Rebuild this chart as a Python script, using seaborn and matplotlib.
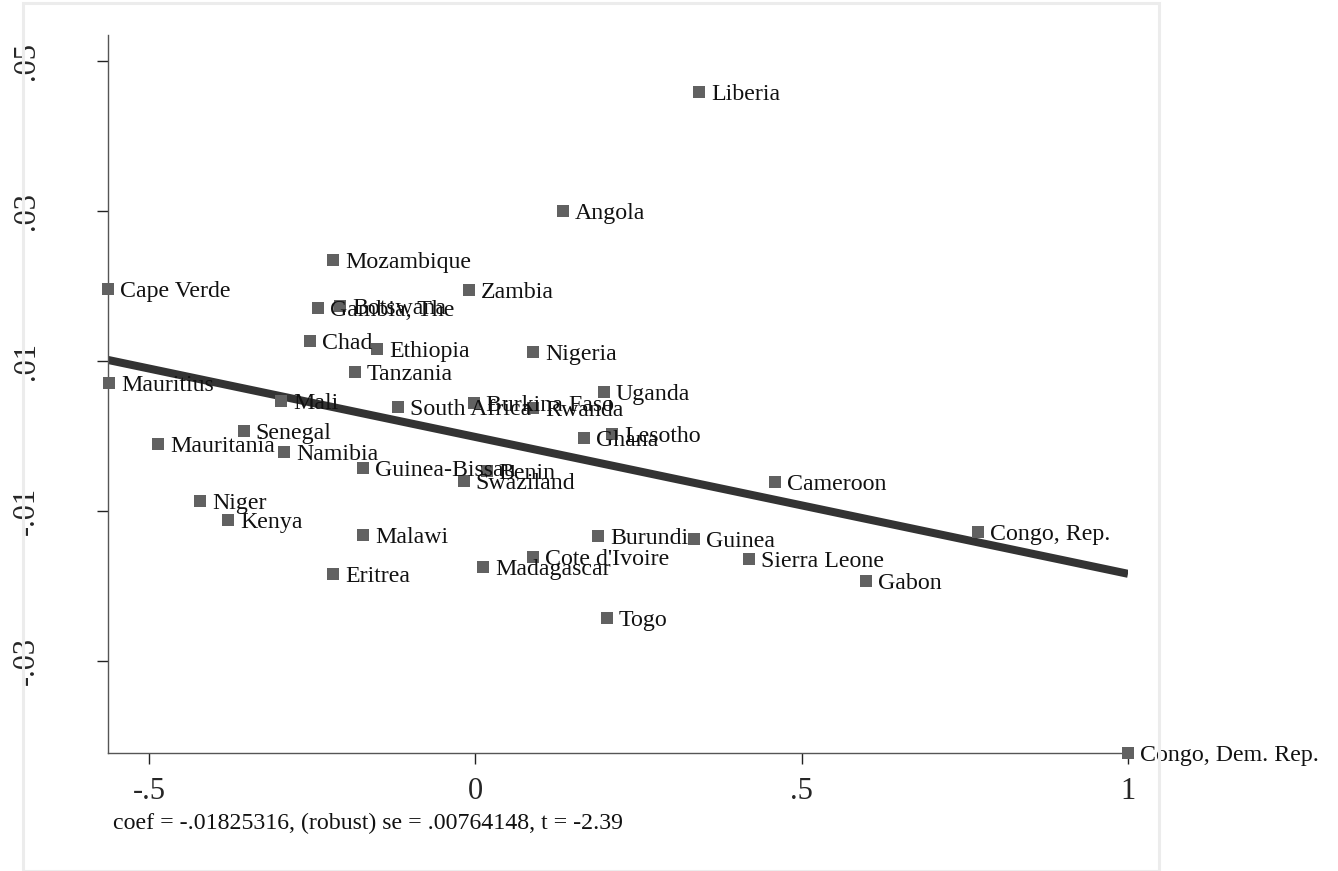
import numpy as np
import pandas as pd
import seaborn as sns
import matplotlib.pyplot as plt
from matplotlib.patches import Rectangle

COUNTRIES = ["Liberia", "Angola", "Mozambique", "Cape Verde", "Zambia", "Gambia, The",
             "Botswana", "Chad", "Ethiopia", "Nigeria", "Tanzania", "Mauritius", "Uganda",
             "Mali", "South Africa", "Burkina Faso", "Rwanda", "Senegal", "Ghana", "Lesotho",
             "Mauritania", "Namibia", "Guinea-Bissau", "Benin", "Swaziland", "Cameroon",
             "Niger", "Kenya", "Malawi", "Burundi", "Guinea", "Congo, Rep.", "Cote d'Ivoire",
             "Sierra Leone", "Madagascar", "Eritrea", "Gabon", "Togo", "Congo, Dem. Rep."]
X_RESID = [0.3427, 0.1343, -0.2181, -0.5628, -0.0097, -0.2411,
           -0.2074, -0.2533, -0.1507, 0.0883, -0.1844, -0.5613, 0.1971,
           -0.2978, -0.1185, -0.0021, 0.0883, -0.3545, 0.1665, 0.2094,
           -0.4862, -0.2932, -0.1721, 0.0178, -0.0174, 0.4591,
           -0.4219, -0.3790, -0.1721, 0.1879, 0.3350, 0.7701, 0.0883,
           0.4193, 0.0117, -0.2181, 0.5985, 0.2017, 1.0000]
Y_RESID = [0.04587, 0.03000, 0.02347, 0.01960, 0.01947, 0.01707,
           0.01733, 0.01267, 0.01160, 0.01120, 0.00853, 0.00707, 0.00587,
           0.00467, 0.00387, 0.00440, 0.00373, 0.00067, -0.00027, 0.00027,
           -0.00107, -0.00213, -0.00427, -0.00467, -0.00600, -0.00613,
           -0.00867, -0.01120, -0.01320, -0.01333, -0.01373, -0.01280, -0.01613,
           -0.01640, -0.01747, -0.01840, -0.01933, -0.02427, -0.04227]

COEF = -0.01825316
NOTE = "coef = -.01825316, (robust) se = .00764148, t = -2.39"
XTICKS = [-0.5, 0, 0.5, 1]
XTICK_LABELS = ["-.5", "0", ".5", "1"]
YTICKS = [-0.03, -0.01, 0.01, 0.03, 0.05]
YTICK_LABELS = ["-.03", "-.01", ".01", ".03", ".05"]

df = pd.DataFrame({"country": COUNTRIES, "x": X_RESID, "y": Y_RESID})

sns.set_style("white")
plt.rcParams["font.family"] = ["Liberation Serif", "DejaVu Serif"]

fig = plt.figure(figsize=(13.38, 8.71), dpi=100)
ax = fig.add_axes([108 / 1338, 1 - 753 / 871, (1128 - 108) / 1338, (753 - 35) / 871])

# outer graph-region frame (Stata style)
fig.patches.append(Rectangle((23 / 1338, 0.0005), (1159 - 23) / 1338, 0.9955,
                             transform=fig.transFigure, fill=False,
                             edgecolor="#ececec", linewidth=2.2, zorder=0))

# fitted line across the data range
intercept = df.y.mean() - COEF * df.x.mean()
fit = pd.DataFrame({"x": [df.x.min(), df.x.max()]})
fit["y"] = intercept + COEF * fit.x
sns.lineplot(data=fit, x="x", y="y", color="#333333", linewidth=5.8, ax=ax, zorder=2,
             solid_capstyle="butt")

sns.scatterplot(data=df, x="x", y="y", marker="s", s=70, color="#616161",
                edgecolor="none", ax=ax, zorder=3, clip_on=False)

for _, r in df.iterrows():
    ax.annotate(r.country, (r.x, r.y), xytext=(8.5, -1.5), textcoords="offset points",
                va="center", ha="left", fontsize=17.2, color="#111111",
                annotation_clip=False, zorder=4)

ax.set_xlim(df.x.min(), df.x.max())
ax.set_ylim(df.y.min(), 0.0535)
ax.set_xticks(XTICKS)
ax.set_xticklabels(XTICK_LABELS, fontsize=22)
ax.set_yticks(YTICKS)
ax.set_yticklabels(YTICK_LABELS, fontsize=22, rotation=90, va="center")
ax.set_xlabel("")
ax.set_ylabel("")

for side in ["top", "right"]:
    ax.spines[side].set_visible(False)
for side in ["left", "bottom"]:
    ax.spines[side].set_color("#555555")
    ax.spines[side].set_linewidth(1.0)

ax.tick_params(axis="x", direction="out", length=8, width=1, color="#222222", pad=9,
               bottom=True)
ax.tick_params(axis="y", direction="out", length=8, width=1, color="#222222", pad=40,
               left=True)

fig.text(113 / 1338, 1 - 823 / 871, NOTE, fontsize=17.2, va="center", ha="left",
         color="#111111")

fig.savefig("out.png", dpi=100)
